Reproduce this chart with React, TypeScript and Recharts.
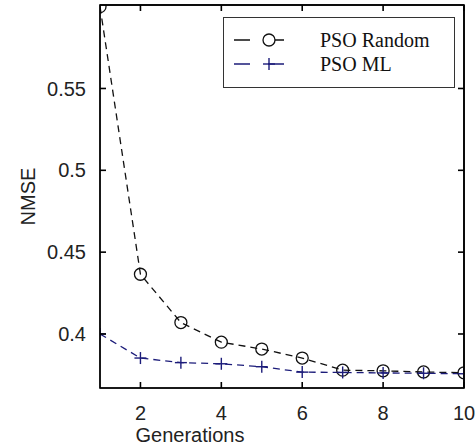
import React from 'react';
import { LineChart, Line, XAxis, YAxis, CartesianGrid } from 'recharts';

const generations = [1, 2, 3, 4, 5, 6, 7, 8, 9, 10];
const psoRandom = [0.6, 0.4365, 0.407, 0.395, 0.3908, 0.3853, 0.3779, 0.3775, 0.3768, 0.3763];
const psoML = [0.4, 0.3853, 0.3825, 0.3818, 0.38, 0.3767, 0.3765, 0.3762, 0.376, 0.3757];
const xTicks = [2, 4, 6, 8, 10];
const yTicks = [0.4, 0.45, 0.5, 0.55];
const seriesNames = ['PSO Random', 'PSO ML'];
const xDomain: [number, number] = [1, 10];
const yDomain: [number, number] = [0.367, 0.601];

const data = generations.map((g, i) => ({ gen: g, random: psoRandom[i], ml: psoML[i] }));

const W = 476;
const H = 448;
const MARGIN = { top: 5, right: 12, left: 0, bottom: 0 };
const Y_AXIS_W = 100;
const X_AXIS_H = 60;
const PLOT = {
  left: MARGIN.left + Y_AXIS_W,
  top: MARGIN.top,
  right: W - MARGIN.right,
  bottom: H - MARGIN.bottom - X_AXIS_H,
};

const RANDOM_COLOR = '#111111';
const ML_COLOR = '#1c1c7a';
const FONT = '"Liberation Sans", Arial, sans-serif';

const sx = (v: number) => PLOT.left + ((v - xDomain[0]) / (xDomain[1] - xDomain[0])) * (PLOT.right - PLOT.left);
const sy = (v: number) => PLOT.bottom - ((v - yDomain[0]) / (yDomain[1] - yDomain[0])) * (PLOT.bottom - PLOT.top);

const CircleDot = (props: any) => {
  const { cx, cy, index } = props;
  if (cx == null || cy == null) return <g key={`c-${index}`} />;
  return <circle key={`c-${index}`} cx={cx} cy={cy} r={6} fill="none" stroke={RANDOM_COLOR} strokeWidth={1.3} />;
};

const PlusDot = (props: any) => {
  const { cx, cy, index } = props;
  if (cx == null || cy == null) return <g key={`p-${index}`} />;
  return (
    <g key={`p-${index}`}>
      <line x1={cx - 6} y1={cy} x2={cx + 6} y2={cy} stroke={ML_COLOR} strokeWidth={1.4} />
      <line x1={cx} y1={cy - 6} x2={cx} y2={cy + 6} stroke={ML_COLOR} strokeWidth={1.4} />
    </g>
  );
};

const Frame = () => {
  const T = 6;
  const SW = 1.6;
  return (
    <svg width={W} height={H} style={{ position: 'absolute', left: 0, top: 0, pointerEvents: 'none', zIndex: 2 }}>
      <rect
        x={PLOT.left}
        y={PLOT.top}
        width={PLOT.right - PLOT.left}
        height={PLOT.bottom - PLOT.top}
        fill="none"
        stroke="#000"
        strokeWidth={SW}
      />
      {xTicks.map((t) => (
        <g key={`x-${t}`}>
          <line x1={sx(t)} y1={PLOT.bottom} x2={sx(t)} y2={PLOT.bottom - T} stroke="#000" strokeWidth={SW} />
          <line x1={sx(t)} y1={PLOT.top} x2={sx(t)} y2={PLOT.top + T} stroke="#000" strokeWidth={SW} />
        </g>
      ))}
      {yTicks.map((t) => (
        <g key={`y-${t}`}>
          <line x1={PLOT.left} y1={sy(t)} x2={PLOT.left + T} y2={sy(t)} stroke="#000" strokeWidth={SW} />
          <line x1={PLOT.right} y1={sy(t)} x2={PLOT.right - T} y2={sy(t)} stroke="#000" strokeWidth={SW} />
        </g>
      ))}
    </svg>
  );
};

const LegendBox = () => (
  <div
    style={{
      position: 'absolute',
      left: 223,
      top: 17,
      width: 230,
      height: 69,
      border: '1.5px solid #333',
      background: '#fff',
      boxSizing: 'content-box',
      fontFamily: '"Liberation Serif", "Times New Roman", serif',
      fontSize: 20,
      color: '#111',
      zIndex: 3,
    }}
  >
    {seriesNames.map((name, i) => (
      <div key={name} style={{ display: 'flex', alignItems: 'center', height: 24, marginTop: i === 0 ? 10 : 0 }}>
        <svg width={96} height={20} style={{ display: 'block' }}>
          <line x1={10} y1={10} x2={74} y2={10} stroke={i === 0 ? RANDOM_COLOR : ML_COLOR} strokeWidth={1.3} strokeDasharray="16 18" />
          {i === 0 ? (
            <circle cx={45} cy={10} r={6} fill="#fff" stroke={RANDOM_COLOR} strokeWidth={1.3} />
          ) : (
            <g>
              <line x1={39} y1={10} x2={51} y2={10} stroke={ML_COLOR} strokeWidth={1.4} />
              <line x1={45} y1={4} x2={45} y2={16} stroke={ML_COLOR} strokeWidth={1.4} />
            </g>
          )}
        </svg>
        <span style={{ lineHeight: '20px' }}>{name}</span>
      </div>
    ))}
  </div>
);

export default function App() {
  const tickStyle = { fontFamily: FONT, fontSize: 20, fill: '#222' };
  return (
    <div style={{ position: 'absolute', left: 0, top: 0, width: W, height: H, background: '#fff' }}>
      <LineChart width={W} height={H} data={data} margin={MARGIN}>
        <CartesianGrid
          stroke="#000"
          strokeWidth={1.6}
          horizontalCoordinatesGenerator={(p: any) => [p.offset.top]}
          verticalCoordinatesGenerator={(p: any) => [p.offset.left + p.offset.width]}
        />
        <XAxis
          dataKey="gen"
          type="number"
          domain={xDomain}
          ticks={xTicks}
          allowDataOverflow
          height={X_AXIS_H}
          stroke="#000"
          tickLine={false}
          tickMargin={12}
          tick={tickStyle}
          label={{ value: 'Generations', position: 'center', dx: -92, dy: 17, style: { fontFamily: FONT, fontSize: 20, fill: '#222' } }}
        />
        <YAxis
          type="number"
          domain={yDomain}
          ticks={yTicks}
          allowDataOverflow
          width={Y_AXIS_W}
          stroke="#000"
          tickLine={false}
          tickMargin={8}
          tick={tickStyle}
          label={{ value: 'NMSE', angle: -90, position: 'center', dx: -22, style: { fontFamily: FONT, fontSize: 20, fill: '#222' } }}
        />
        <Line
          type="linear"
          dataKey="random"
          name={seriesNames[0]}
          stroke={RANDOM_COLOR}
          strokeWidth={1.3}
          strokeDasharray="7 5"
          dot={CircleDot}
          isAnimationActive={false}
        />
        <Line
          type="linear"
          dataKey="ml"
          name={seriesNames[1]}
          stroke={ML_COLOR}
          strokeWidth={1.3}
          strokeDasharray="7 5"
          dot={PlusDot}
          isAnimationActive={false}
        />
      </LineChart>
      <Frame />
      <LegendBox />
    </div>
  );
}
